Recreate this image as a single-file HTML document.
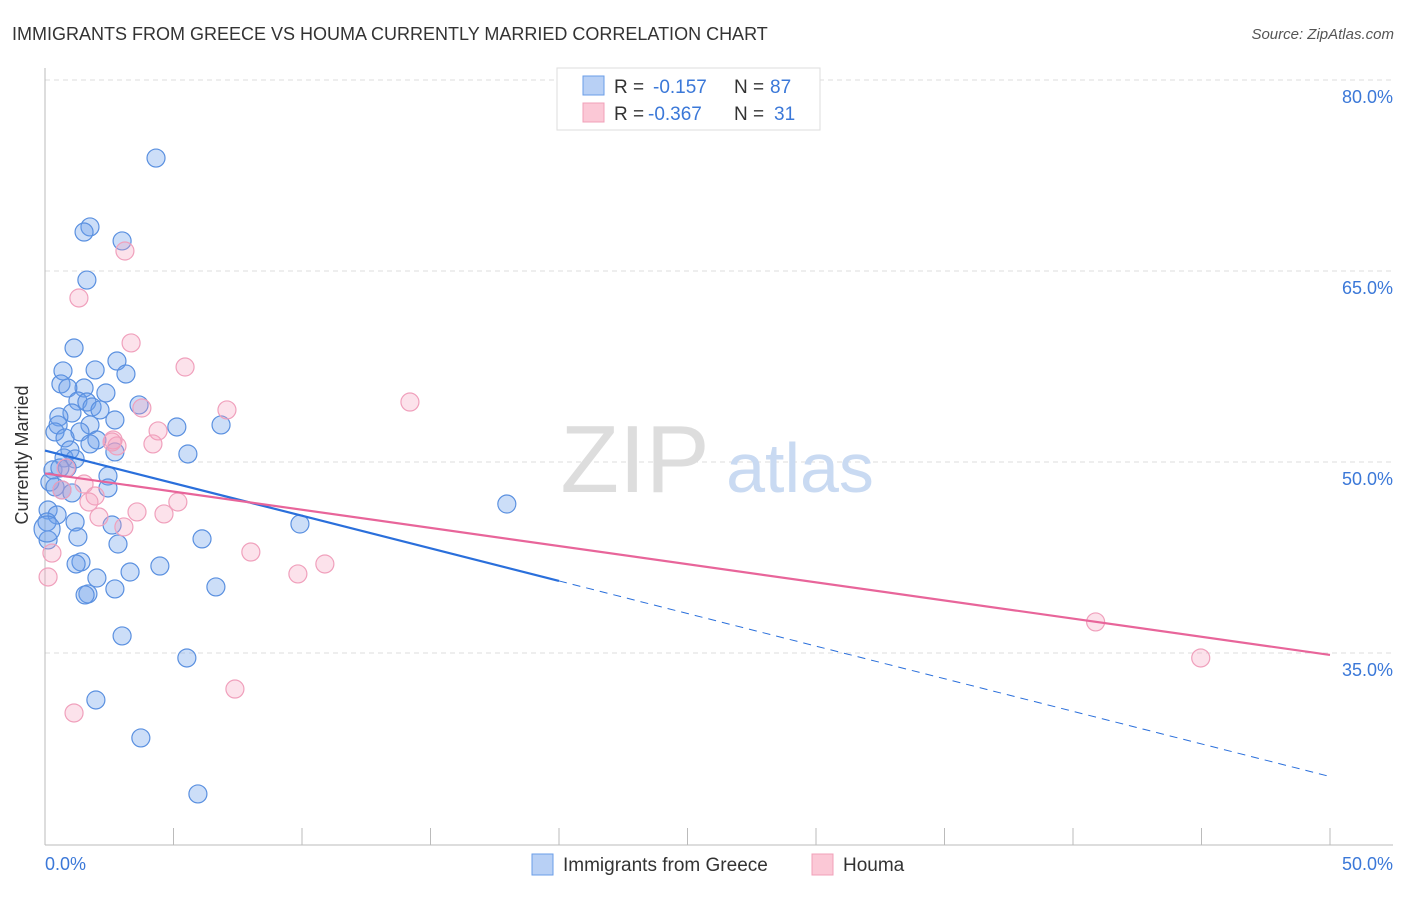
<!DOCTYPE html>
<html><head><meta charset="utf-8"><style>
body{margin:0;background:#fff;font-family:"Liberation Sans",sans-serif}
svg text{font-family:"Liberation Sans",sans-serif}
</style></head><body>
<svg width="1406" height="892" xmlns="http://www.w3.org/2000/svg">
<text x="12" y="40" font-size="18" fill="#333">IMMIGRANTS FROM GREECE VS HOUMA CURRENTLY MARRIED CORRELATION CHART</text>
<text x="1394" y="39" font-size="15" fill="#555" font-style="italic" text-anchor="end">Source: ZipAtlas.com</text>
<g id="grid"></g>
<text x="635" y="492" font-size="96" fill="#ddd" font-family="Liberation Serif" text-anchor="middle">ZIP</text>
<text x="800" y="492" font-size="70" fill="#c9daf2" text-anchor="middle">atlas</text>
<g id="axes"></g>
<g id="pts"></g>
<g id="trends"></g>
<text x="28" y="455" font-size="18" fill="#333" text-anchor="middle" transform="rotate(-90 28 455)">Currently Married</text>
<g>
<rect x="557" y="68" width="263" height="62" fill="#fff" stroke="#ddd"/>
<rect x="583" y="76" width="21" height="19" fill="#b8d0f5" stroke="#6a9ee8"/>
<rect x="583" y="103" width="21" height="19" fill="#fbc8d6" stroke="#f0a0b8"/>
<text x="614" y="93" font-size="19" fill="#333">R = </text><text x="653" y="93" font-size="19" fill="#3b78d8">-0.157</text>
<text x="734" y="93" font-size="19" fill="#333">N = </text><text x="770" y="93" font-size="19" fill="#3b78d8">87</text>
<text x="614" y="120" font-size="19" fill="#333">R = </text><text x="648" y="120" font-size="19" fill="#3b78d8">-0.367</text>
<text x="734" y="120" font-size="19" fill="#333">N = </text><text x="774" y="120" font-size="19" fill="#3b78d8">31</text>
</g>
<g>
<rect x="532" y="854" width="21" height="21" fill="#b8d0f5" stroke="#6a9ee8"/>
<text x="563" y="871" font-size="19" fill="#333">Immigrants from Greece</text></g>
<g>
<rect x="812" y="854" width="21" height="21" fill="#fbc8d6" stroke="#f0a0b8"/>
<text x="843" y="871" font-size="19" fill="#333">Houma</text></g>
</svg>
<script>
const yTicks=[80,65,50,35];
const xTickLabels=["0.0%","50.0%"];
const blueX=[4.32,1.75,1.52,3.00,1.63,1.13,2.80,0.70,1.95,3.15,0.62,1.52,0.89,2.37,3.66,1.28,1.63,1.83,2.14,1.05,0.54,2.72,0.51,1.75,5.13,6.85,0.39,1.36,0.78,2.02,1.75,0.97,2.72,5.56,0.74,1.17,2.45,0.31,0.86,0.19,0.39,0.66,1.05,2.45,0.12,0.47,2.61,1.17,1.28,0.08,0.12,9.92,17.97,6.11,2.84,1.40,1.21,4.47,3.31,2.02,6.65,2.72,1.67,1.56,3.00,5.52,1.98,3.73,5.95,0.08,0.58];
const blueY=[73.87,68.46,68.06,67.36,64.29,58.95,57.93,57.15,57.23,56.91,56.13,55.81,55.81,55.42,54.48,54.79,54.71,54.32,54.09,53.85,53.54,53.30,52.91,52.91,52.75,52.91,52.36,52.36,51.89,51.73,51.42,50.94,50.79,50.63,50.32,50.24,48.90,49.38,49.53,48.43,48.04,47.80,47.57,47.96,46.23,45.84,45.05,45.29,44.11,45.29,43.88,45.13,46.70,43.96,43.56,42.15,41.99,41.83,41.36,40.89,40.19,40.03,39.64,39.56,36.34,34.61,31.31,28.33,23.93,44.74,49.53];
const pinkX=[3.11,1.32,3.35,5.45,7.08,3.77,14.20,4.40,2.65,2.80,4.20,1.52,1.95,1.71,5.17,3.58,4.63,2.10,3.07,8.01,9.84,10.89,0.12,0.27,7.39,1.13,40.88,44.97,0.82,0.66,2.61];
const pinkY=[66.57,62.88,59.35,57.46,54.09,54.24,54.71,52.44,51.73,51.26,51.42,48.27,47.33,46.86,46.86,46.08,45.92,45.68,44.90,42.93,41.21,41.99,40.97,42.85,32.17,30.29,37.44,34.61,49.53,47.80,51.57];
const blueTrend=[50.9,25.3];
const pinkTrend=[49.1,34.85];
const blueSolidEnd=20;
const NS="http://www.w3.org/2000/svg";
const xs=v=>45+v/50*1285;
const ys=v=>80+(80-v)/15*191;
function mk(tag,attrs,parent){const e=document.createElementNS(NS,tag);for(const k in attrs)e.setAttribute(k,attrs[k]);parent.appendChild(e);return e;}
const grid=document.getElementById('grid'),axes=document.getElementById('axes'),pts=document.getElementById('pts'),tr=document.getElementById('trends');
yTicks.forEach(t=>{
 const l=mk('line',{x1:45,x2:1393,y1:ys(t),y2:ys(t),stroke:'#ddd','stroke-dasharray':'5,4'},grid);
 
 
 const tx=mk('text',{x:1393,y:ys(t)+23,'font-size':18,fill:'#3b78d8','text-anchor':'end'},grid);
 tx.textContent=t.toFixed(1)+'%';
 
 
});
const ax=mk('line',{x1:45,x2:45,y1:68,y2:845,stroke:'#bbb'},axes);


const bx=mk('line',{x1:45,x2:1393,y1:845,y2:845,stroke:'#bbb'},axes);


for(let i=0;i<=10;i++){
 const t=mk('line',{x1:xs(i*5),x2:xs(i*5),y1:828,y2:845,stroke:'#bbb'},axes);
 
 
}
[[0,'start',45],[50,'end',1393]].forEach((d,i)=>{
 const tx=mk('text',{x:d[2],y:870,'font-size':18,fill:'#3b78d8','text-anchor':d[1]},axes);
 tx.textContent=xTickLabels[i];
 
 
});
blueX.forEach((x,i)=>{
 const c=mk('circle',{cx:xs(x),cy:ys(blueY[i]),r:(i>=69&&i==69)?13:9,fill:'rgba(110,160,235,0.35)',stroke:'#5a90e0','stroke-width':1.2},pts);
 
 
});
pinkX.forEach((x,i)=>{
 const c=mk('circle',{cx:xs(x),cy:ys(pinkY[i]),r:9,fill:'rgba(245,160,190,0.3)',stroke:'#f0a0bc','stroke-width':1.2},pts);
 
 
});
const by=x=>blueTrend[0]+(blueTrend[1]-blueTrend[0])*x/50;
const b1=mk('line',{x1:xs(0),y1:ys(by(0)),x2:xs(blueSolidEnd),y2:ys(by(blueSolidEnd)),stroke:'#2a6fdb','stroke-width':2.2},tr);


const b2=mk('line',{x1:xs(blueSolidEnd),y1:ys(by(blueSolidEnd)),x2:xs(50),y2:ys(by(50)),stroke:'#2a6fdb','stroke-width':1,'stroke-dasharray':'8,6'},tr);


const p1=mk('line',{x1:xs(0),y1:ys(pinkTrend[0]),x2:xs(50),y2:ys(pinkTrend[1]),stroke:'#e8659a','stroke-width':2.2},tr);


</script>
</body></html>
